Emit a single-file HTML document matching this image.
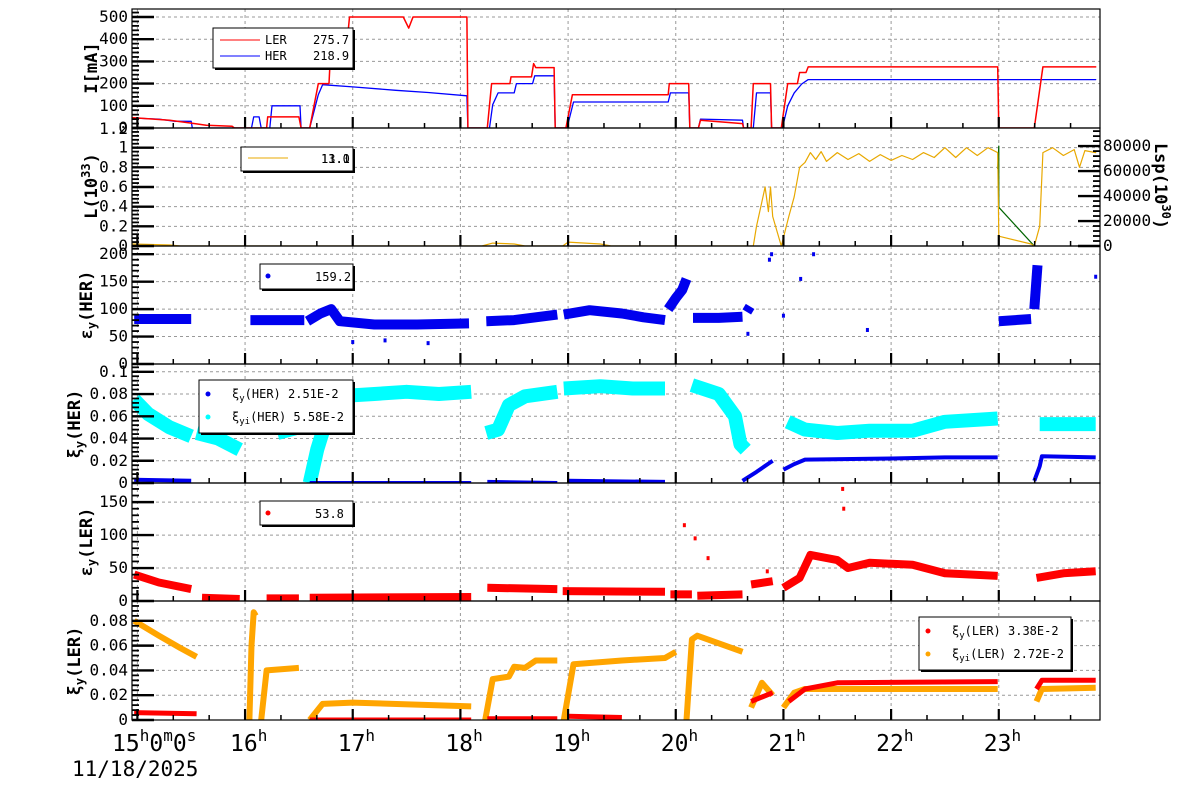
<!DOCTYPE html>
<html><head><meta charset="utf-8"><style>
html,body{margin:0;padding:0;background:#fff;width:1200px;height:798px;overflow:hidden}
svg text{font-family:"DejaVu Sans Mono","Liberation Mono",monospace}
</style></head><body>
<svg id="chart" width="1200" height="798" viewBox="0 0 1200 798" xmlns="http://www.w3.org/2000/svg"></svg>
<script>
// ---- data (time in hours, values in axis units) ----
const hourTicks=[15,16,17,18,19,20,21,22,23];
const curLER=[[14.95,47],[15.1,42],[15.3,35],[15.5,22],[15.64,12],[15.88,8],[15.9,0],[16.2,0],[16.21,50],[16.5,50],[16.52,0],[16.6,0],[16.68,200],[16.78,200],[16.8,400],[16.95,400],[16.97,500],[17.47,500],[17.52,450],[17.56,500],[18.06,500],[18.07,0],[18.25,0],[18.29,200],[18.46,200],[18.47,230],[18.66,230],[18.68,290],[18.7,272],[18.87,272],[18.88,0],[18.98,0],[19.04,150],[19.93,150],[19.94,200],[20.12,200],[20.13,0],[20.21,0],[20.23,35],[20.62,20],[20.63,0],[20.7,0],[20.72,200],[20.88,200],[20.89,0],[20.98,0],[21.04,200],[21.13,200],[21.15,250],[21.21,250],[21.23,275],[22.99,275],[23.0,0],[23.33,0],[23.41,275],[23.9,275]];
const curHER=[[14.95,45],[15.2,40],[15.35,30],[15.5,30],[15.51,0],[16.06,0],[16.08,50],[16.13,50],[16.15,0],[16.23,0],[16.25,100],[16.51,100],[16.52,0],[16.6,0],[16.68,150],[16.72,195],[17.0,185],[17.4,170],[17.7,160],[18.06,145],[18.07,0],[18.27,0],[18.3,105],[18.35,158],[18.5,158],[18.52,200],[18.67,200],[18.69,235],[18.87,235],[18.88,0],[18.99,0],[19.05,117],[19.93,117],[19.95,158],[20.12,158],[20.13,0],[20.21,0],[20.23,40],[20.62,35],[20.63,0],[20.72,0],[20.75,158],[20.88,158],[20.89,0],[20.99,0],[21.04,100],[21.1,158],[21.17,198],[21.23,218],[23.9,218]];
const lumL=[[14.95,0.02],[15.3,0.01],[15.4,0],[18.2,0],[18.3,0.03],[18.5,0.02],[18.6,0],[18.95,0],[19.0,0.04],[19.3,0.02],[19.4,0],[20.72,0],[20.75,0.2],[20.8,0.45],[20.83,0.6],[20.86,0.35],[20.88,0.6],[20.9,0.3],[20.98,0],[21.05,0.3],[21.1,0.5],[21.15,0.8],[21.2,0.85],[21.25,0.95],[21.3,0.88],[21.35,0.96],[21.4,0.86],[21.5,0.95],[21.6,0.88],[21.7,0.94],[21.8,0.86],[21.9,0.93],[22.0,0.87],[22.1,0.92],[22.2,0.88],[22.3,0.95],[22.4,0.9],[22.5,1.0],[22.6,0.9],[22.7,1.0],[22.8,0.92],[22.9,1.0],[22.99,0.95],[23.0,0.1],[23.3,0.02],[23.33,0],[23.38,0.2],[23.41,0.95],[23.5,1.0],[23.6,0.92],[23.7,0.98],[23.75,0.8],[23.8,0.97],[23.9,0.95]];
const lumSp=[[22.99,62000],[23.0,80000],[23.0,31000],[23.33,0]];
const epsHERsegs=[[[14.97,82],[15.2,82],[15.5,82]],[[16.05,80],[16.55,80]],[[16.58,78],[16.7,92],[16.8,100],[16.88,78],[17.2,72],[17.6,72],[18.08,74]],[[18.24,78],[18.5,80],[18.9,90]],[[18.96,90],[19.2,98],[19.5,92],[19.7,85],[19.9,80]],[[19.93,100],[20.0,120],[20.06,135],[20.1,155]],[[20.16,84],[20.4,84],[20.62,86]],[[20.66,95],[20.69,105]],[[23.0,78],[23.3,82]],[[23.33,100],[23.36,180]]];
const epsHERpts=[[20.67,55],[20.87,190],[20.89,200],[21.0,88],[21.16,155],[21.28,200],[21.78,62],[23.9,159],[17.0,40],[17.7,38],[17.3,43]];
const xiHERsegs=[[[14.97,0.003],[15.5,0.002]],[[16.6,0],[18.1,0]],[[18.25,0.001],[18.9,0]],[[19.0,0.002],[19.9,0.001]],[[20.62,0.002],[20.75,0.01],[20.87,0.018],[20.9,0.02]],[[21.0,0.012],[21.1,0.017],[21.2,0.021],[22.0,0.022],[22.5,0.023],[22.99,0.023]],[[23.33,0.002],[23.38,0.015],[23.4,0.024],[23.9,0.023]]];
const xiiHERsegs=[[[14.97,0.075],[15.1,0.062],[15.3,0.05],[15.5,0.042]],[[15.55,0.045],[15.75,0.04],[15.95,0.03]],[[16.3,0.045],[16.5,0.05]],[[16.6,0.0],[16.67,0.03],[16.75,0.055],[16.8,0.065]],[[16.85,0.078],[17.2,0.08],[17.5,0.082],[17.8,0.08],[18.1,0.082]],[[18.24,0.045],[18.35,0.048],[18.45,0.07],[18.6,0.078],[18.9,0.082]],[[18.96,0.085],[19.3,0.087],[19.6,0.085],[19.9,0.085]],[[20.15,0.088],[20.4,0.08],[20.55,0.06],[20.6,0.035],[20.65,0.03]],[[21.04,0.055],[21.2,0.048],[21.5,0.045],[21.8,0.047],[22.2,0.047],[22.5,0.055],[22.99,0.058]],[[23.38,0.053],[23.9,0.053]]];
const epsLERsegs=[[[14.97,40],[15.2,28],[15.5,18]],[[15.6,5],[15.95,3]],[[16.2,4],[16.5,4]],[[16.6,5],[18.1,6]],[[18.25,20],[18.9,18]],[[18.95,15],[19.9,14]],[[19.95,10],[20.15,10]],[[20.2,8],[20.62,10]],[[20.7,25],[20.9,30]],[[21.0,20],[21.15,35],[21.25,70],[21.5,62],[21.6,50],[21.8,58],[22.2,55],[22.5,42],[22.99,38]],[[23.35,35],[23.6,42],[23.9,45]]];
const epsLERpts=[[21.55,170],[21.56,140],[20.08,115],[20.18,95],[20.3,65],[20.85,45]];
const xiiLERsegs=[[[14.97,0.08],[15.2,0.068],[15.4,0.058],[15.55,0.051]],[[16.04,0.0],[16.06,0.06],[16.08,0.087],[16.1,0.084]],[[16.15,0.0],[16.2,0.04],[16.5,0.042]],[[16.6,0],[16.72,0.013],[17.0,0.014],[18.1,0.011]],[[18.23,0],[18.3,0.033],[18.45,0.035],[18.5,0.043],[18.6,0.042],[18.7,0.048],[18.9,0.048]],[[18.96,0],[19.05,0.045],[19.5,0.048],[19.9,0.05],[20.0,0.055]],[[20.1,0.0],[20.15,0.065],[20.2,0.068],[20.62,0.055]],[[20.7,0.01],[20.8,0.03],[20.9,0.02]],[[21.0,0.01],[21.1,0.022],[21.2,0.025],[22.99,0.025]],[[23.0,0.048],[23.3,0.046]],[[23.35,0.015],[23.4,0.025],[23.9,0.026]]];
const xiLERsegs=[[[14.97,0.006],[15.55,0.005]],[[16.6,0],[18.1,0]],[[18.25,0.001],[18.9,0.001]],[[19.0,0.003],[19.5,0.002]],[[20.7,0.015],[20.9,0.022]],[[21.05,0.015],[21.2,0.025],[21.5,0.03],[22.99,0.031]],[[23.35,0.025],[23.4,0.032],[23.9,0.032]]];
const p1Ticks=[100,200,300,400,500];
const p2Ticks=[0,0.2,0.4,0.6,0.8,1];
const p2Labels=["0","0.2","0.4","0.6","0.8","1"];
const p2RightTicks=[0,20000,40000,60000,80000];
const p3Ticks=[0,50,100,150,200];
const p4Ticks=[0,0.02,0.04,0.06,0.08,0.1];
const p4Labels=["0","0.02","0.04","0.06","0.08","0.1"];
const p5Ticks=[0,50,100,150];
const p6Ticks=[0,0.02,0.04,0.06,0.08];
const p6Labels=["0","0.02","0.04","0.06","0.08"];

// ---- layout ----
const NS="http://www.w3.org/2000/svg";
const svg=document.getElementById('chart');
const L=132,R=1100,T0=14.95,T1=23.94;
const tops=[9,128,246,364,483,601,720];
const ranges=[[0,536],[0,1.2],[0,215],[0,0.107],[0,179],[0,0.096]];
function xs(t){return L+(t-T0)/(T1-T0)*(R-L);}
function ys(p,v){const b=tops[p+1],t=tops[p];return b-(v-ranges[p][0])/(ranges[p][1]-ranges[p][0])*(b-t);}
function ysR(v){return tops[2]-v/94500*(tops[2]-tops[1]);}
function el(tag,attrs,parent){const e=document.createElementNS(NS,tag);for(const k in attrs)e.setAttribute(k,attrs[k]);(parent||svg).appendChild(e);return e;}
const defs=el('defs',{});
for(let p=0;p<6;p++){const c=el('clipPath',{id:'clip'+p},defs);el('rect',{x:L,y:tops[p],width:R-L,height:tops[p+1]-tops[p]},c);}

function panelGroup(p,name){const g=el('g',{'clip-path':'url(#clip'+p+')'});return g;}
function line(p,pts,color,w,name,yf){const g=panelGroup(p,name);const f=yf||(v=>ys(p,v));
  const e=el('polyline',{points:pts.map(d=>xs(d[0]).toFixed(1)+','+f(d[1]).toFixed(1)).join(' '),fill:'none',stroke:color,'stroke-width':w,'stroke-linejoin':'round','stroke-linecap':'round'},g);
  return g;}
function band(p,segs,color,w,name){const g=panelGroup(p,name);
  segs.forEach(s=>{const e=el('polyline',{points:s.map(d=>xs(d[0]).toFixed(1)+','+ys(p,d[1]).toFixed(1)).join(' '),fill:'none',stroke:color,'stroke-width':w,'stroke-linejoin':'round','stroke-linecap':'butt'},g);
  });return g;}
function dots(p,pts,color,name){const g=panelGroup(p,name);
  pts.forEach(d=>{const e=el('rect',{x:xs(d[0])-1.5,y:ys(p,d[1])-2,width:3,height:4,fill:color},g);
  });}

// grid
for(let p=0;p<6;p++){
  hourTicks.forEach(h=>{const x=xs(h);if(x>L+2)el('line',{x1:x,y1:tops[p],x2:x,y2:tops[p+1],stroke:'#999','stroke-dasharray':'3,3','stroke-width':1});});
}
function hgrid(p,ticks){ticks.forEach(v=>{const y=ys(p,v);if(y<tops[p+1]-1&&y>tops[p]+1)el('line',{x1:L,y1:y,x2:R,y2:y,stroke:'#999','stroke-dasharray':'3,3','stroke-width':1});});}
hgrid(0,p1Ticks);hgrid(1,p2Ticks);hgrid(2,p3Ticks);hgrid(3,p4Ticks);hgrid(4,p5Ticks);hgrid(5,p6Ticks);

// series
line(0,curHER,'#0000ff',1.3,'her-current');
line(0,curLER,'#ff0000',1.5,'ler-current');
line(1,lumSp,'#006400',1.2,'specific-luminosity',v=>ysR(v));
line(1,lumL,'#e8a800',1.2,'luminosity');
band(2,epsHERsegs,'#0000ee',10,'her-emittance');
dots(2,epsHERpts,'#0000ee','her-emittance-outlier');
band(3,xiiHERsegs,'#00ffff',14,'her-xi-yi');
band(3,xiHERsegs,'#0000ee',4,'her-xi-y');
band(4,epsLERsegs,'#ff0000',8,'ler-emittance');
dots(4,epsLERpts,'#ff0000','ler-emittance-outlier');
band(5,xiiLERsegs,'#ffa500',6,'ler-xi-yi');
band(5,xiLERsegs,'#ff0000',5,'ler-xi-y');

// frames & ticks
for(let p=0;p<6;p++){
  const f=el('rect',{x:L,y:tops[p],width:R-L,height:tops[p+1]-tops[p],fill:'none',stroke:'#000','stroke-width':1.2});
  
  for(let m=0;m<=27;m++){const t=15+m/3;const x=xs(t);if(x>R)break;const maj=m%3===0;
    el('line',{x1:x,y1:tops[p+1],x2:x,y2:tops[p+1]-(maj?11:5),stroke:'#000','stroke-width':maj?2.2:1.5});}
  const r=ranges[p];const step=[20,0.04,10,0.004,10,0.004][p];
  for(let v=r[0];v<=r[1]+1e-9;v+=step){const y=ys(p,v);const maj=[100,0.2,50,0.02,50,0.02][p];const isMaj=Math.abs(v/maj-Math.round(v/maj))<1e-6;
    el('line',{x1:L,y1:y,x2:L+(isMaj?22:7),y2:y,stroke:'#000','stroke-width':isMaj?2.4:1.8});}
}
for(let v=0;v<=94000;v+=4000){const y=ysR(v);const isMaj=v%20000===0;el('line',{x1:R,y1:y,x2:R-(isMaj?22:7),y2:y,stroke:'#000','stroke-width':isMaj?2.4:1.8});}

function txt(x,y,s,opt){const e=el('text',Object.assign({x:x,y:y,'font-size':16,fill:'#000'},opt||{}));e.textContent=s;return e;}
function ylabels(p,ticks,labels,name){ticks.forEach((v,i)=>{const e=txt(128,ys(p,v)+5,labels?labels[i]:String(v),{'text-anchor':'end'});
  });}
ylabels(0,[0].concat(p1Ticks),["0"].concat(p1Ticks.map(String)),'current-axis');
ylabels(1,p2Ticks,p2Labels,'luminosity-axis');
{const e=txt(128,tops[1]+6,"1.2",{'text-anchor':'end'});}
ylabels(2,p3Ticks,null,'her-emittance-axis');
ylabels(3,p4Ticks,p4Labels,'her-xi-axis');
ylabels(4,p5Ticks,null,'ler-emittance-axis');
ylabels(5,p6Ticks,p6Labels,'ler-xi-axis');
p2RightTicks.forEach(v=>{const e=txt(1103,ysR(v)+5,String(v),{});});

// axis titles
function ytitle(x,y,html,name,rot){const e=el('text',{x:0,y:0,'font-size':17,'font-weight':'bold','text-anchor':'middle',transform:'translate('+x+','+y+') rotate('+(rot||-90)+')'});e.innerHTML=html;}
ytitle(97,68,'I[mA]','current-axis-title');
ytitle(97,186,'L(10<tspan font-size="12" dy="-7">33</tspan><tspan dy="7">)</tspan>','luminosity-axis-title');
ytitle(1155,186,'Lsp(10<tspan font-size="12" dy="-7">30</tspan><tspan dy="7">)</tspan>','lsp-axis-title',90);
ytitle(92,305,'ε<tspan font-size="12" dy="4">y</tspan><tspan dy="-4">(HER)</tspan>','her-emittance-axis-title');
ytitle(80,424,'ξ<tspan font-size="12" dy="4">y</tspan><tspan dy="-4">(HER)</tspan>','her-xi-axis-title');
ytitle(92,542,'ε<tspan font-size="12" dy="4">y</tspan><tspan dy="-4">(LER)</tspan>','ler-emittance-axis-title');
ytitle(80,661,'ξ<tspan font-size="12" dy="4">y</tspan><tspan dy="-4">(LER)</tspan>','ler-xi-axis-title');

// x labels
hourTicks.forEach((h,i)=>{const x=xs(h);const e=el('text',{x:i===0?112:x-15,y:751,'font-size':23});
  e.innerHTML=i===0?'15<tspan font-size="16" dy="-10">h</tspan><tspan dy="10">0</tspan><tspan font-size="16" dy="-10">m</tspan><tspan dy="10">0</tspan><tspan font-size="16" dy="-10">s</tspan>':h+'<tspan font-size="16" dy="-10">h</tspan>';
  });
{const e=txt(72,776,'11/18/2025',{'font-size':21});}

// legends
function legendBox(x,y,w,h,name){const g=el('g',{});
  el('rect',{x:x+2,y:y+2,width:w,height:h,fill:'#000'},g);el('rect',{x:x,y:y,width:w,height:h,fill:'#fff',stroke:'#000','stroke-width':1},g);return g;}
function ltext(g,x,y,s,html){const e=el('text',{x:x,y:y,'font-size':12},g);if(html)e.innerHTML=s;else e.textContent=s;return e;}
{const g=legendBox(213,28,140,40,'current-legend');
 el('line',{x1:220,y1:40,x2:260,y2:40,stroke:'#f00'},g);ltext(g,265,44,'LER');ltext(g,313,44,'275.7');
 el('line',{x1:220,y1:56,x2:260,y2:56,stroke:'#00f'},g);ltext(g,265,60,'HER');ltext(g,313,60,'218.9');}
{const g=legendBox(241,147,112,24,'luminosity-legend');
 el('line',{x1:248,y1:158,x2:288,y2:158,stroke:'#e8a800'},g);ltext(g,321,163,'13.0');ltext(g,321,163,'11.1');}
{const g=legendBox(260,264,93,25,'her-emittance-legend');
 el('circle',{cx:268,cy:276,r:2.5,fill:'#00e'},g);ltext(g,315,281,'159.2');}
{const g=legendBox(199,380,154,53,'her-xi-legend');
 el('circle',{cx:208,cy:394,r:2.5,fill:'#00e'},g);ltext(g,232,398,'ξ<tspan font-size="9" dy="3">y</tspan><tspan dy="-3">(HER)  2.51E-2</tspan>',true);
 el('circle',{cx:208,cy:417,r:2.5,fill:'#0ff'},g);ltext(g,232,421,'ξ<tspan font-size="9" dy="3">yi</tspan><tspan dy="-3">(HER)  5.58E-2</tspan>',true);}
{const g=legendBox(260,501,93,24,'ler-emittance-legend');
 el('circle',{cx:268,cy:513,r:2.5,fill:'#f00'},g);ltext(g,315,518,'53.8');}
{const g=legendBox(919,617,152,53,'ler-xi-legend');
 el('circle',{cx:928,cy:631,r:2.5,fill:'#f00'},g);ltext(g,952,635,'ξ<tspan font-size="9" dy="3">y</tspan><tspan dy="-3">(LER)  3.38E-2</tspan>',true);
 el('circle',{cx:928,cy:654,r:2.5,fill:'#ffa500'},g);ltext(g,952,658,'ξ<tspan font-size="9" dy="3">yi</tspan><tspan dy="-3">(LER)  2.72E-2</tspan>',true);}
</script>
</body></html>
